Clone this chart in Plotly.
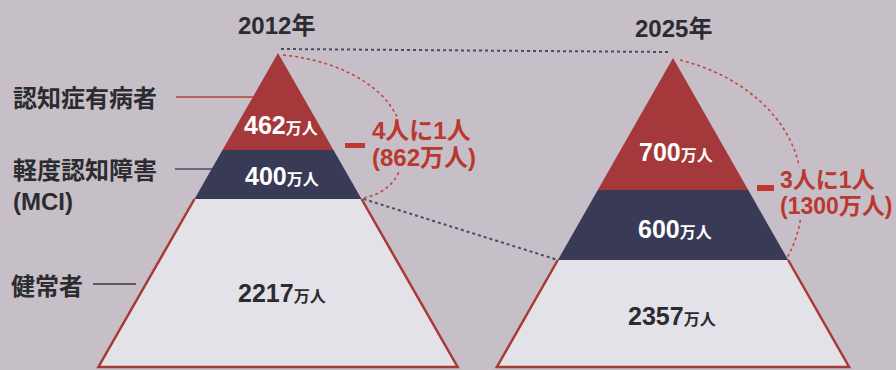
import plotly.graph_objects as go

# ---- data -------------------------------------------------------------
years = ["2012年", "2025年"]
categories = ["認知症有病者", "軽度認知障害<br>(MCI)", "健常者"]
dementia = [462, 700]          # 万人
mci = [400, 600]               # 万人
healthy = [2217, 2357]         # 万人
ratio_text = ["4人に1人", "3人に1人"]

# ---- styling / layout -------------------------------------------------
W, H = 896, 370
BG = "#c6bfc7"
RED = "#a4383a"
NAVY = "#393a56"
WHITE_BAND = "#e3e2e8"
RED_TEXT = "#b9382f"
DARK_TEXT = "#2b2b30"
FONT = "Liberation Sans, Noto Sans CJK JP, sans-serif"

# schematic pyramid geometry: apex x, apex y, base y, edge slope,
# and the y positions where each band ends (top→bottom)
pyramids = [
    dict(cx=278, top=53, base=367, k=0.572, cuts=[150, 199]),
    dict(cx=673, top=58, base=367, k=0.570, cuts=[190, 260]),
]


def half_width(p, y):
    return p["k"] * (y - p["top"])


def band(p, y0, y1):
    """Closed polygon of the pyramid slice between y0 and y1."""
    a, b = half_width(p, y0), half_width(p, y1)
    xs = [p["cx"] - a, p["cx"] + a, p["cx"] + b, p["cx"] - b, p["cx"] - a]
    ys = [y0, y0, y1, y1, y0]
    return xs, ys


fig = go.Figure()

for i, p in enumerate(pyramids):
    levels = [p["top"]] + p["cuts"] + [p["base"]]
    for (y0, y1), col in zip(zip(levels[:-1], levels[1:]), [RED, NAVY, WHITE_BAND]):
        xs, ys = band(p, y0, y1)
        fig.add_trace(go.Scatter(x=xs, y=ys, fill="toself", fillcolor=col,
                                 mode="lines", line=dict(width=0, color=col),
                                 hoverinfo="skip", showlegend=False))
    # red outline around the healthy band
    y0, y1 = levels[2], levels[3]
    a, b = half_width(p, y0), half_width(p, y1)
    fig.add_trace(go.Scatter(x=[p["cx"] - a, p["cx"] - b, p["cx"] + b, p["cx"] + a],
                             y=[y0, y1, y1, y0], mode="lines",
                             line=dict(color="#a83a35", width=2.5),
                             hoverinfo="skip", showlegend=False))

shapes = []
L, R = pyramids
# dotted guide lines linking the two pyramids
shapes.append(dict(type="line", xref="x", yref="y", x0=L["cx"] + 3, y0=L["top"] - 4,
                   x1=R["cx"] - 5, y1=R["top"] - 6,
                   line=dict(color="#4a4a62", width=2, dash="dot")))
ly = L["cuts"][1]
ry = R["cuts"][1]
shapes.append(dict(type="line", xref="x", yref="y",
                   x0=L["cx"] + half_width(L, ly) + 2, y0=ly,
                   x1=R["cx"] - half_width(R, ry), y1=ry,
                   line=dict(color="#4a4a62", width=2, dash="dot")))
# red dotted arcs bracketing dementia + MCI
shapes.append(dict(type="path", xref="x", yref="y",
                   path="M 283 55 C 350 62, 400 95, 403 140 C 406 175, 390 192, 364 198",
                   line=dict(color="#c4463e", width=1.6, dash="dot")))
shapes.append(dict(type="path", xref="x", yref="y",
                   path="M 680 60 C 740 75, 790 115, 800 170 C 806 205, 800 235, 787 258",
                   line=dict(color="#c4463e", width=1.6, dash="dot")))
# small red dashes in front of the ratio callouts
shapes.append(dict(type="rect", xref="x", yref="y", x0=345, x1=365, y0=143, y1=148,
                   fillcolor="#c0392e", line=dict(width=0)))
shapes.append(dict(type="rect", xref="x", yref="y", x0=757, x1=774, y0=185, y1=191,
                   fillcolor="#c0392e", line=dict(width=0)))
# connector lines from the category labels
shapes.append(dict(type="line", xref="x", yref="y", x0=176, x1=253, y0=97, y1=97,
                   line=dict(color="#b5403a", width=1.5)))
shapes.append(dict(type="line", xref="x", yref="y", x0=175, x1=212, y0=169, y1=169,
                   line=dict(color="#4a4a62", width=1.5)))
shapes.append(dict(type="line", xref="x", yref="y", x0=93, x1=136, y0=284, y1=284,
                   line=dict(color="#3a3a44", width=1.5)))

ann = []


def txt(x, y, text, size, color, xanchor="center", **kw):
    ann.append(dict(x=x, y=y, xref="x", yref="y", text=text, showarrow=False,
                    xanchor=xanchor, yanchor="middle",
                    font=dict(family=FONT, size=size, color=color, weight="bold"), **kw))


def value_label(v):
    return f"{v}<span style='font-size:16px'>万人</span>"


# year titles
txt(276, 25, years[0], 24, DARK_TEXT)
txt(673, 28, years[1], 24, DARK_TEXT)

# band values
label_pos = [
    [(281, 125), (282, 176), (282, 293)],
    [(676, 152), (675, 229), (672, 316)],
]
for i in range(2):
    vals = [dementia[i], mci[i], healthy[i]]
    cols = ["white", "white", DARK_TEXT]
    for (x, y), v, c in zip(label_pos[i], vals, cols):
        txt(x, y, value_label(v), 25, c)

# category labels
txt(11, 98, categories[0], 24, DARK_TEXT, xanchor="left")
txt(11, 186, categories[1], 24, DARK_TEXT, xanchor="left", align="left")
txt(9, 286, categories[2], 24, DARK_TEXT, xanchor="left")

# ratio callouts (two lines each, boxed in background colour over the arcs)
callouts = [dict(x=371, y1=130, y2=157, size=24), dict(x=779, y1=180, y2=206, size=23)]
for i, c in enumerate(callouts):
    total = dementia[i] + mci[i]
    txt(c["x"], c["y1"], ratio_text[i], c["size"], RED_TEXT, xanchor="left",
        bgcolor=BG, borderpad=0)
    txt(c["x"], c["y2"], f"({total}万人)", c["size"], RED_TEXT, xanchor="left",
        bgcolor=BG, borderpad=0)

fig.update_layout(
    width=W, height=H, margin=dict(l=0, r=0, t=0, b=0),
    paper_bgcolor=BG, plot_bgcolor=BG,
    xaxis=dict(range=[0, W], visible=False, fixedrange=True),
    yaxis=dict(range=[H, 0], visible=False, fixedrange=True),
    shapes=shapes, annotations=ann, showlegend=False,
)

fig.write_html("out.html")
